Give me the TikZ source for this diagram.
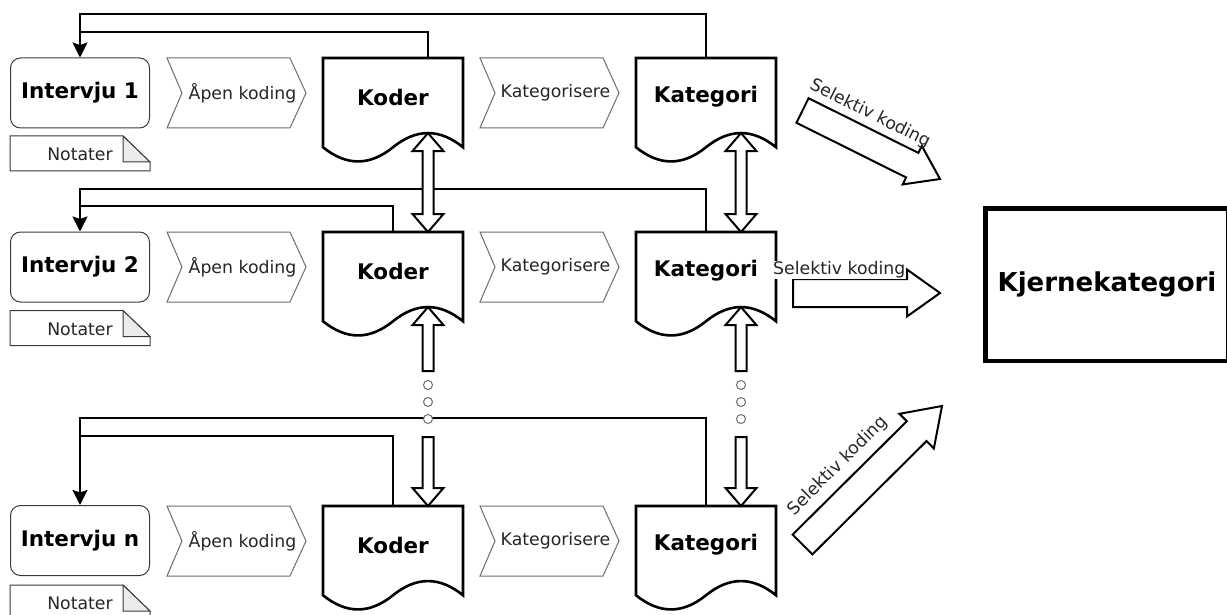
\documentclass[tikz,border=0pt]{standalone}
\usepackage{fontspec}
\setmainfont{DejaVu Sans}
\usetikzlibrary{arrows.meta,calc}

\definecolor{labelgray}{HTML}{262626}
\definecolor{chevgray}{HTML}{6E6E6E}
\definecolor{boxgray}{HTML}{3A3A3A}
\definecolor{foldgray}{HTML}{EBEBEB}

\tikzset{
  intv/.style={draw=boxgray, line width=1, rounded corners=10,
    minimum width=139, minimum height=70, inner sep=0,
    font=\fontsize{21.5}{24}\selectfont\bfseries},
  doctext/.style={font=\fontsize{21.5}{24}\selectfont\bfseries, inner sep=0},
  docline/.style={draw=black, line width=2.6, fill=white, line join=miter},
  chevline/.style={draw=chevgray, line width=1, fill=white},
  chevtext/.style={font=\fontsize{17.3}{20}\selectfont, text=labelgray, inner sep=0},
  noteline/.style={draw=boxgray, line width=1},
  notetext/.style={font=\fontsize{17.3}{20}\selectfont, text=labelgray, inner sep=0},
  fb/.style={draw=black, line width=2},
  fbarrow/.style={fb, -{Stealth[length=15pt, width=15pt, inset=2.5pt]}},
  blk/.style={draw=black, line width=2, fill=white, line join=miter},
  seltext/.style={font=\fontsize{17.3}{20}\selectfont, text=labelgray, inner sep=0},
  dotc/.style={draw=chevgray, line width=1, fill=white},
  core/.style={draw=black, line width=4.5, minimum width=243, minimum height=152.5,
    inner sep=0, font=\fontsize{26}{30}\selectfont\bfseries}
}

% document shape with wavy bottom (width 140, height 105)
\newcommand\docnode[4]{%
  \begin{scope}[shift={(#2,#3)}]
    \draw[docline] (0,0) -- (140,0) -- (140,89.25)
      .. controls (116.67,70.35) and (93.33,70.35) .. (70,89.25)
      .. controls (46.67,108.15) and (23.33,108.15) .. (0,89.25) -- cycle;
    \node[doctext] (#1) at (70,39) {#4};
    \coordinate (#1-peak) at (105,75.1);
    \coordinate (#1-q) at (105,0);
    \coordinate (#1-c) at (70,0);
  \end{scope}}

% process step (chevron) with its label
\newcommand\chevnode[4]{%
  \begin{scope}[shift={(#2,#3)}]
    \draw[chevline] (0,0) -- (123,0) -- (139,35) -- (123,70) -- (0,70) -- (15,35) -- cycle;
    \node[chevtext] (#1) at (75.5,35) {#4};
  \end{scope}}

% note card with folded corner
\newcommand\notenode[3]{%
  \begin{scope}[shift={(#2,#3)}]
    \draw[noteline, fill=white] (0,0) -- (113,0) -- (140,26) -- (140,35) -- (0,35) -- cycle;
    \draw[noteline, fill=foldgray] (113,0) -- (113,26) -- (140,26) -- cycle;
    \node[notetext] (#1) at (70,18.5) {Notater};
  \end{scope}}

% single block arrow: tail, tip, half shaft, half head, head length (pt), name
\newcommand\blockarr[6]{%
  \coordinate (#6-h) at ($(#2)!#5pt!(#1)$);
  \draw[blk] ($(#1)!#3pt!90:(#2)$) -- ($(#6-h)!#3pt!-90:(#1)$) -- ($(#6-h)!#4pt!-90:(#1)$)
    -- (#2) -- ($(#6-h)!#4pt!90:(#1)$) -- ($(#6-h)!#3pt!90:(#1)$) -- ($(#1)!#3pt!-90:(#2)$) -- cycle;}

% double block arrow: tip a, tip b, half shaft, half head, head length (pt), name
\newcommand\dblarr[6]{%
  \coordinate (#6-ha) at ($(#1)!#5pt!(#2)$);
  \coordinate (#6-hb) at ($(#2)!#5pt!(#1)$);
  \draw[blk] (#1) -- ($(#6-ha)!#4pt!90:(#2)$) -- ($(#6-ha)!#3pt!90:(#2)$)
    -- ($(#6-hb)!#3pt!-90:(#1)$) -- ($(#6-hb)!#4pt!-90:(#1)$) -- (#2)
    -- ($(#6-hb)!#4pt!90:(#1)$) -- ($(#6-hb)!#3pt!90:(#1)$)
    -- ($(#6-ha)!#3pt!-90:(#2)$) -- ($(#6-ha)!#4pt!-90:(#2)$) -- cycle;}

\begin{document}
\begin{tikzpicture}[x=1pt, y=-1pt]
  \useasboundingbox (0,0) rectangle (1227,615);

  % interviews
  \node[intv] (i1) at (80,93) {Intervju 1};
  \node[intv] (i2) at (80,267) {Intervju 2};
  \node[intv] (i3) at (80,540.5) {Intervju n};

  \notenode{n1}{10}{136}
  \notenode{n2}{10}{310.5}
  \notenode{n3}{10}{585}

  % coding steps
  \chevnode{ak1}{167}{58}{Åpen koding}
  \chevnode{ak2}{167}{232}{Åpen koding}
  \chevnode{ak3}{167}{506}{Åpen koding}
  \chevnode{kg1}{480}{58}{Kategorisere}
  \chevnode{kg2}{480}{232}{Kategorisere}
  \chevnode{kg3}{480}{506}{Kategorisere}

  \docnode{kod1}{323}{58}{Koder}
  \docnode{kod2}{323}{232}{Koder}
  \docnode{kod3}{323}{506}{Koder}
  \docnode{kat1}{636}{58}{Kategori}
  \docnode{kat2}{636}{232}{Kategori}
  \docnode{kat3}{636}{506}{Kategori}

  \node[core] (core) at (1107,284.75) {Kjernekategori};

  % feedback loops back to each interview
  \coordinate (fb1) at (80,14);   \coordinate (fb1b) at (80,32);
  \coordinate (fb2) at (80,189);  \coordinate (fb2b) at (80,206);
  \coordinate (fb3) at (80,418);  \coordinate (fb3b) at (80,436);
  \draw[fbarrow] (kat1-c) |- (fb1) -- (i1.north);
  \draw[fb] (kod1-q) |- (fb1b);
  \draw[fbarrow] (kat2-c) |- (fb2) -- (i2.north);
  \draw[fb] (kod2-c) |- (fb2b);
  \draw[fbarrow] (kat3-c) |- (fb3) -- (i3.north);
  \draw[fb] (kod3-c) |- (fb3b);

  % links between the rows
  \dblarr{kod1-peak}{kod2-q}{5.5}{15.5}{18}{dk}
  \dblarr{kat1-peak}{kat2-q}{5.5}{15.5}{18}{dt}

  \coordinate (ku-tail) at (428,371);
  \coordinate (kd-tail) at (428,437);
  \coordinate (tu-tail) at (741,371);
  \coordinate (td-tail) at (741,437);
  \blockarr{ku-tail}{kod2-peak}{5.5}{15.5}{18}{ku}
  \blockarr{kd-tail}{kod3-q}{5.5}{15.5}{18}{kd}
  \blockarr{tu-tail}{kat2-peak}{5.5}{15.5}{18}{tu}
  \blockarr{td-tail}{kat3-q}{5.5}{15.5}{18}{td}

  \foreach \yy in {385,402,419} {
    \draw[dotc] (428,\yy) circle (4.5);
    \draw[dotc] (741,\yy) circle (4.5);
  }

  % selective coding towards the core category
  \coordinate (s1-tail) at (802.5,110.5); \coordinate (s1-tip) at (940,179);
  \coordinate (s2-tail) at (793,293);     \coordinate (s2-tip) at (940,293);
  \coordinate (s3-tail) at (802.5,544.5); \coordinate (s3-tip) at (942,406);
  \blockarr{s1-tail}{s1-tip}{13.7}{21.5}{31}{s1}
  \blockarr{s2-tail}{s2-tip}{14}{23.5}{33}{s2}
  \blockarr{s3-tail}{s3-tip}{14}{24.4}{35.7}{s3}

  \node[seltext, rotate=-26.5] (s1-lab) at (870,114) {Selektiv koding};
  \node[seltext, fill=white, inner sep=1, anchor=west] (s2-lab) at (772,270) {Selektiv koding};
  \node[seltext, rotate=45] (s3-lab) at (838,466) {Selektiv koding};
\end{tikzpicture}
\end{document}
